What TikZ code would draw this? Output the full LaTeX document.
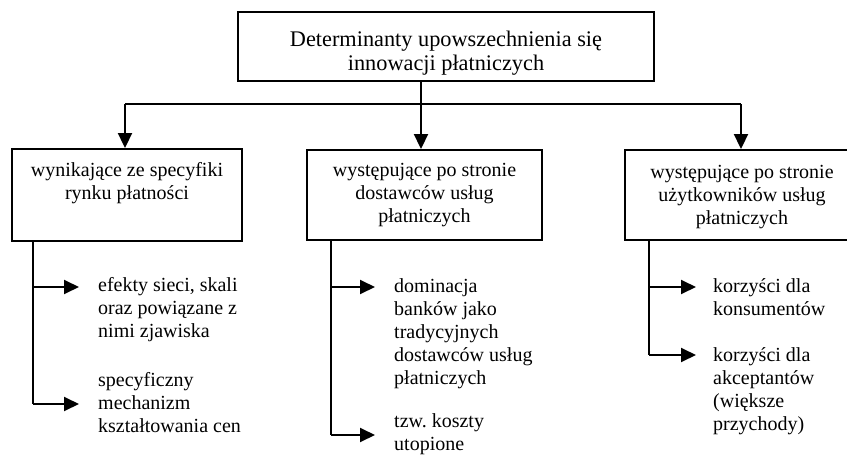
\documentclass[tikz,border=0pt]{standalone}
\usepackage{fontspec}
\setmainfont{Liberation Serif}
\usetikzlibrary{arrows.meta}
\frenchspacing
\tikzset{
  box/.style={draw, line width=1.9pt, inner sep=0pt},
  conn/.style={line width=1.9pt},
  arr/.style={line width=1.9pt, -{Triangle[length=15pt,width=14pt]}},
  item/.style={font=\fontsize{20pt}{23pt}\selectfont\frenchspacing, inner sep=0pt, anchor=north west},
  bfont/.style={font=\fontsize{20pt}{23pt}\selectfont},
}
\newcommand{\itemtext}[1]{\parbox[t]{170pt}{\raggedright\strut #1}}
\begin{document}
\begin{tikzpicture}[x=1pt,y=-1pt]
\useasboundingbox (0,0) rectangle (847,455);
% top box
\node[box, font=\fontsize{22.3pt}{24pt}\selectfont] (top) at (446,46.5)
  {\parbox[c][69pt][t]{416pt}{\centering\vspace*{18pt}\strut Determinanty upowszechnienia się\\innowacji płatniczych}};
% level-2 boxes
\node[box, bfont] (lbox) at (127,195)
  {\parbox[c][92pt][t]{230pt}{\centering\vspace*{11pt}\strut wynikające ze specyfiki\\rynku płatności}};
\node[box, bfont] (mbox) at (424.5,195)
  {\parbox[c][90pt][t]{235pt}{\centering\vspace*{10pt}\strut występujące po stronie\\dostawców usług\\płatniczych}};
\node[box, bfont] (rbox) at (742,195)
  {\parbox[c][90pt][t]{234pt}{\centering\vspace*{12pt}\strut występujące po stronie\\użytkowników usług\\płatniczych}};
% junctions
\coordinate (J) at (421,104);
\coordinate (JL) at (125,104);
\coordinate (JR) at (741,104);
\draw[conn] (top.south -| J) -- (J);
\draw[conn] (JL) -- (JR);
\draw[arr] (JL) -- (lbox.north -| JL);
\draw[arr] (J) -- (mbox.north -| J);
\draw[arr] (JR) -- (rbox.north -| JR);
% items
\node[item] (l1) at (98,274.9) {\itemtext{efekty sieci, skali\\oraz powiązane z\\nimi zjawiska}};
\node[item] (l2) at (98,369.9) {\itemtext{specyficzny\\mechanizm\\kształtowania cen}};
\node[item] (m1) at (394,275.9) {\itemtext{dominacja\\banków jako\\tradycyjnych\\dostawców usług\\płatniczych}};
\node[item] (m2) at (394,411.5) {\itemtext{tzw. koszty\\utopione}};
\node[item] (r1) at (713,275.9) {\itemtext{korzyści dla\\konsumentów}};
\node[item] (r2) at (713,344.9) {\itemtext{korzyści dla\\akceptantów\\(większe\\przychody)}};
% sub trunks
\coordinate (LA) at (33,287);
\coordinate (LB) at (33,404);
\coordinate (MA) at (331,287);
\coordinate (MB) at (331,435);
\coordinate (RA) at (649,287);
\coordinate (RB) at (649,355);
\draw[conn] (lbox.south -| LA) -- (LB);
\draw[conn] (mbox.south -| MA) -- (MB);
\draw[conn] (rbox.south -| RA) -- (RB);
\draw[arr, shorten >=19pt] (LA) -- (LA -| l1.west);
\draw[arr, shorten >=19pt] (LB) -- (LB -| l2.west);
\draw[arr, shorten >=19pt] (MA) -- (MA -| m1.west);
\draw[arr, shorten >=19pt] (MB) -- (MB -| m2.west);
\draw[arr, shorten >=17pt] (RA) -- (RA -| r1.west);
\draw[arr, shorten >=17pt] (RB) -- (RB -| r2.west);
\end{tikzpicture}
\end{document}
